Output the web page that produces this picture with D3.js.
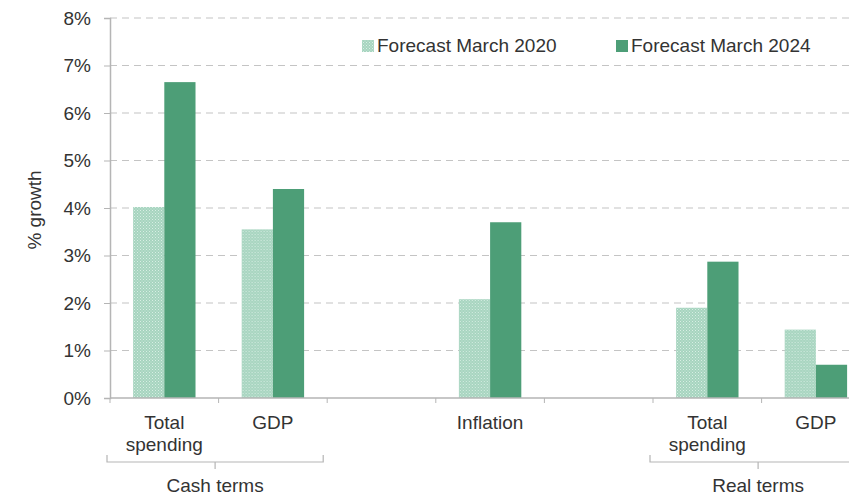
<!DOCTYPE html>
<html>
<head>
<meta charset="utf-8">
<script src="https://cdn.jsdelivr.net/npm/d3@7"></script>
<style>
  body { margin: 0; background: #fff; }
  text { font-family: "Liberation Sans", Arial, sans-serif; fill: #333; }
</style>
</head>
<body>
<svg id="chart" width="849" height="495"></svg>
<script>
// categories (blank slots are the gaps in the original chart)
const categories = ["cashTotal", "cashGDP", "gap1", "inflation", "gap2", "realTotal", "realGDP"];
const categoryLabels = {
  cashTotal: ["Total", "spending"],
  cashGDP: ["GDP"],
  inflation: ["Inflation"],
  realTotal: ["Total", "spending"],
  realGDP: ["GDP"]
};
const seriesNames = ["Forecast March 2020", "Forecast March 2024"];
const forecast2020 = [4.02, 3.55, null, 2.08, null, 1.9, 1.44];
const forecast2024 = [6.65, 4.4, null, 3.7, null, 2.87, 0.7];
const yTicks = [0, 1, 2, 3, 4, 5, 6, 7, 8];
const groups = [
  { label: "Cash terms", from: "cashTotal", to: "cashGDP" },
  { label: "Real terms", from: "realTotal", to: "realGDP" }
];

const svg = d3.select("#chart");
const plotLeft = 110, plotTop = 18, plotBottom = 398;
const bandW = 108.6;
const fs = "19px";

const x = d3.scaleBand()
  .domain(categories)
  .range([plotLeft, plotLeft + bandW * categories.length]);

const y = d3.scaleLinear().domain([0, 8]).range([plotBottom, plotTop]);

const xs = d3.scaleBand().domain(seriesNames).range([0, x.bandwidth()]).paddingOuter(0.74);

// texture for the 2020 bars
const defs = svg.append("defs");
const pat = defs.append("pattern")
  .attr("id", "dots")
  .attr("width", 3).attr("height", 3)
  .attr("patternUnits", "userSpaceOnUse");
pat.append("rect").attr("width", 3).attr("height", 3).attr("fill", "#a6d4bf");
pat.append("rect").attr("x", 0).attr("y", 0).attr("width", 1).attr("height", 1).attr("fill", "#d8eee4");
pat.append("rect").attr("x", 1.5).attr("y", 1.5).attr("width", 1).attr("height", 1).attr("fill", "#cde8dc");

const colors = { "Forecast March 2020": "url(#dots)", "Forecast March 2024": "#4d9e77" };

// gridlines
svg.append("g")
  .selectAll("line")
  .data(yTicks.filter(d => d > 0))
  .join("line")
  .attr("x1", plotLeft).attr("x2", 849)
  .attr("y1", d => y(d)).attr("y2", d => y(d))
  .attr("stroke", "#c4c4c4")
  .attr("stroke-width", 1.2)
  .attr("stroke-dasharray", "7,5");

// y axis
const yAxis = svg.append("g")
  .attr("transform", `translate(${plotLeft},0)`)
  .call(d3.axisLeft(y).tickValues(yTicks).tickSize(6).tickPadding(13).tickFormat(d => d + "%"));
yAxis.select(".domain").attr("stroke", "#b5b5b5").attr("stroke-width", 1.5);
yAxis.selectAll(".tick line").attr("stroke", "#b5b5b5");
yAxis.selectAll("text").style("font-size", fs).attr("fill", "#333");

// bars
const rows = categories.map((c, i) => ({ cat: c, vals: [forecast2020[i], forecast2024[i]] }));
svg.append("g")
  .selectAll("g")
  .data(rows)
  .join("g")
  .attr("transform", d => `translate(${x(d.cat)},0)`)
  .selectAll("rect")
  .data(d => d.vals.map((v, j) => ({ s: seriesNames[j], v })).filter(e => e.v != null))
  .join("rect")
  .attr("x", d => xs(d.s))
  .attr("width", xs.bandwidth())
  .attr("y", d => y(d.v))
  .attr("height", d => y(0) - y(d.v))
  .attr("fill", d => colors[d.s]);

// x axis line and ticks
svg.append("line")
  .attr("x1", plotLeft).attr("x2", 849)
  .attr("y1", plotBottom).attr("y2", plotBottom)
  .attr("stroke", "#b5b5b5").attr("stroke-width", 1.5);
svg.append("g")
  .selectAll("line")
  .data(categories.map(c => x(c)))
  .join("line")
  .attr("x1", d => d).attr("x2", d => d)
  .attr("y1", plotBottom).attr("y2", plotBottom + 5)
  .attr("stroke", "#b5b5b5");

// category labels
svg.append("g")
  .selectAll("text")
  .data(categories.filter(c => categoryLabels[c]))
  .join("text")
  .attr("x", c => x(c) + x.bandwidth() / 2)
  .attr("y", 429)
  .attr("text-anchor", "middle")
  .style("font-size", fs)
  .selectAll("tspan")
  .data(c => categoryLabels[c].map(t => ({ t, cx: x(c) + x.bandwidth() / 2 })))
  .join("tspan")
  .attr("x", d => d.cx)
  .attr("dy", (d, i) => i === 0 ? 0 : 22)
  .text(d => d.t);

// group brackets
groups.forEach(g => {
  const x0 = x(g.from) - 3, x1 = x(g.to) + x.bandwidth() - 4;
  const cx = (x0 + x1) / 2;
  const gb = svg.append("g").attr("fill", "none").attr("stroke", "#b5b5b5").attr("stroke-width", 1.2);
  gb.append("path").attr("d", `M${x0},455 V462 H${x1} V455`);
  gb.append("line").attr("x1", cx).attr("x2", cx).attr("y1", 462).attr("y2", 469);
  svg.append("text")
    .attr("x", cx).attr("y", 492)
    .attr("text-anchor", "middle")
    .style("font-size", fs)
    .text(g.label);
});

// y label
svg.append("text")
  .attr("transform", "translate(41,210) rotate(-90)")
  .attr("text-anchor", "middle")
  .style("font-size", fs)
  .text("% growth");

// legend
const legend = svg.append("g");
legend.append("rect").attr("x", 350).attr("y", 30).attr("width", 495).attr("height", 30).attr("fill", "#fff");
const lx = [362, 616];
seriesNames.forEach((s, i) => {
  legend.append("rect")
    .attr("x", lx[i]).attr("y", 40)
    .attr("width", 12).attr("height", 12)
    .attr("fill", colors[s]);
  legend.append("text")
    .attr("x", lx[i] + 15).attr("y", 52)
    .style("font-size", fs)
    .text(s);
});
</script>
</body>
</html>
